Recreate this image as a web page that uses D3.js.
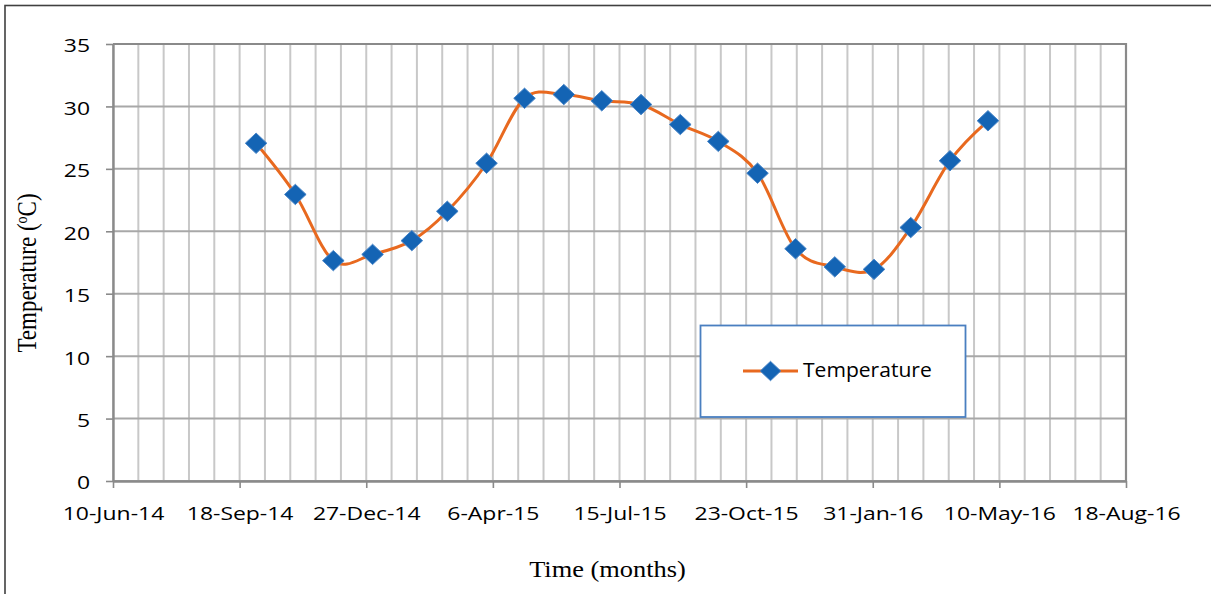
<!DOCTYPE html>
<html>
<head>
<meta charset="utf-8">
<script src="https://cdn.jsdelivr.net/npm/d3@7"></script>
<style>
  html, body { margin: 0; padding: 0; background: #fff; overflow: hidden; }
  svg { display: block; }
</style>
</head>
<body>
<svg id="chart" width="1211" height="594"></svg>
<script>
// ---- Data ----
const dates = ["2014-10-01","2014-11-01","2014-12-01","2015-01-01","2015-02-01","2015-03-01",
               "2015-04-01","2015-05-01","2015-06-01","2015-07-01","2015-08-01","2015-09-01",
               "2015-10-01","2015-11-01","2015-12-01","2016-01-01","2016-02-01","2016-03-01",
               "2016-04-01","2016-05-01"];
const temperature = [27.05, 22.95, 17.65, 18.15, 19.25, 21.6, 25.45, 30.65, 30.95, 30.45,
                     30.15, 28.55, 27.2, 24.65, 18.6, 17.15, 16.95, 20.3, 25.65, 28.85];
const xTickDates = ["2014-06-10","2014-09-18","2014-12-27","2015-04-06","2015-07-15",
                    "2015-10-23","2016-01-31","2016-05-10","2016-08-18"];
const yTicks = [0, 5, 10, 15, 20, 25, 30, 35];
const seriesName = "Temperature";
const xTitle = "Time (months)";

// ---- Layout ----
const W = 1211, H = 594;
const plot = { left: 113, right: 1126, top: 44, bottom: 481 };
const parse = d3.utcParse("%Y-%m-%d");
const fmt = d3.utcFormat("%-d-%b-%y");
const svg = d3.select("#chart");

const xTicks = xTickDates.map(parse);
const x = d3.scaleUtc()
  .domain([xTicks[0], xTicks[xTicks.length - 1]])
  .range([plot.left, plot.right]);
const y = d3.scaleLinear().domain([0, 35]).range([plot.bottom, plot.top]);

const data = dates.map((d, i) => ({ date: parse(d), value: temperature[i] }));

// Outer chart frame
svg.append("rect")
  .attr("x", 5).attr("y", 5.5).attr("width", W + 20).attr("height", H + 20)
  .attr("fill", "none").attr("stroke", "#404040").attr("stroke-width", 1.6);

// Minor vertical gridlines every 20 days
const minorTicks = d3.utcDay.range(xTicks[0], d3.utcDay.offset(xTicks[xTicks.length - 1], 1))
  .filter((d, i) => i % 20 === 0);
svg.append("g").selectAll("line").data(minorTicks).join("line")
  .attr("x1", d => x(d)).attr("x2", d => x(d))
  .attr("y1", plot.top).attr("y2", plot.bottom)
  .attr("stroke", "#c8c8c8").attr("stroke-width", 2);

// Horizontal gridlines
svg.append("g").selectAll("line").data(yTicks).join("line")
  .attr("x1", plot.left).attr("x2", plot.right)
  .attr("y1", d => y(d)).attr("y2", d => y(d))
  .attr("stroke", "#a8a8a8").attr("stroke-width", 2);

// Plot border top / right
svg.append("path")
  .attr("d", `M${plot.left},${plot.top}H${plot.right}V${plot.bottom}`)
  .attr("fill", "none").attr("stroke", "#8a8a8a").attr("stroke-width", 2.2);

const tickFont = "'Open Sans', 'Noto Sans', sans-serif";
const sxTick = 1.22;

// X axis
const xAxis = svg.append("g")
  .attr("transform", `translate(0,${plot.bottom})`)
  .call(d3.axisBottom(x).tickValues(xTicks).tickFormat(fmt).tickSize(7).tickSizeOuter(0));
xAxis.select(".domain").attr("stroke", "#8a8a8a").attr("stroke-width", 2.4);
xAxis.selectAll(".tick line").attr("stroke", "#8a8a8a").attr("stroke-width", 1.6);
xAxis.selectAll(".tick text")
  .attr("y", 39).attr("dy", 0)
  .attr("transform", `scale(${sxTick},1)`)
  .style("font-family", tickFont).style("font-size", "18.8px").attr("fill", "#000");

// Y axis
const yAxis = svg.append("g")
  .attr("transform", `translate(${plot.left},0)`)
  .call(d3.axisLeft(y).tickValues(yTicks).tickSize(7).tickSizeOuter(0));
yAxis.select(".domain").attr("stroke", "#8a8a8a").attr("stroke-width", 2.4);
yAxis.selectAll(".tick line").attr("stroke", "#8a8a8a").attr("stroke-width", 1.6);
yAxis.selectAll(".tick text")
  .attr("x", -23 / sxTick).attr("dy", "0.42em")
  .attr("transform", `scale(${sxTick},1)`)
  .style("font-family", tickFont).style("font-size", "18.8px").attr("fill", "#000");

// Line
const line = d3.line()
  .x(d => x(d.date)).y(d => y(d.value))
  .curve(d3.curveCatmullRom.alpha(0));
svg.append("path").datum(data)
  .attr("d", line)
  .attr("fill", "none").attr("stroke", "#e8691f").attr("stroke-width", 3);

// Diamond markers
const diamond = "M0,-10.2L10.8,0L0,10.2L-10.8,0Z";
svg.append("g").selectAll("path").data(data).join("path")
  .attr("d", diamond)
  .attr("transform", d => `translate(${x(d.date)},${y(d.value)})`)
  .attr("fill", "#1464b4").attr("stroke", "#4a86c8").attr("stroke-width", 1);

// Legend
const lg = svg.append("g");
lg.append("rect")
  .attr("x", 700.5).attr("y", 325.5).attr("width", 265).attr("height", 91.5)
  .attr("fill", "#fff").attr("stroke", "#4a7fc0").attr("stroke-width", 1.8);
lg.append("line")
  .attr("x1", 743).attr("x2", 798).attr("y1", 371).attr("y2", 371)
  .attr("stroke", "#e8691f").attr("stroke-width", 3);
lg.append("path").attr("d", diamond)
  .attr("transform", "translate(770.5,371) scale(0.95)")
  .attr("fill", "#1464b4").attr("stroke", "#4a86c8").attr("stroke-width", 1);
lg.append("text")
  .attr("x", 803 / 1.08).attr("y", 377.5)
  .attr("transform", "scale(1.08,1)")
  .style("font-family", tickFont).style("font-size", "19.5px")
  .text(seriesName);

// Axis titles
svg.append("text")
  .attr("transform", "translate(607.5,577) scale(1.1,1)")
  .attr("text-anchor", "middle")
  .style("font-family", "'Liberation Serif', 'Times New Roman', serif").style("font-size", "24px")
  .text(xTitle);

const yt = svg.append("text")
  .attr("transform", "translate(36,273) rotate(-90) scale(1,1.2)")
  .attr("text-anchor", "middle")
  .style("font-family", "'Liberation Serif', 'Times New Roman', serif").style("font-size", "23px");
yt.append("tspan").text("Temperature (");
yt.append("tspan").attr("baseline-shift", "super").style("font-size", "14px").text("o");
yt.append("tspan").text("C)");
</script>
</body>
</html>
